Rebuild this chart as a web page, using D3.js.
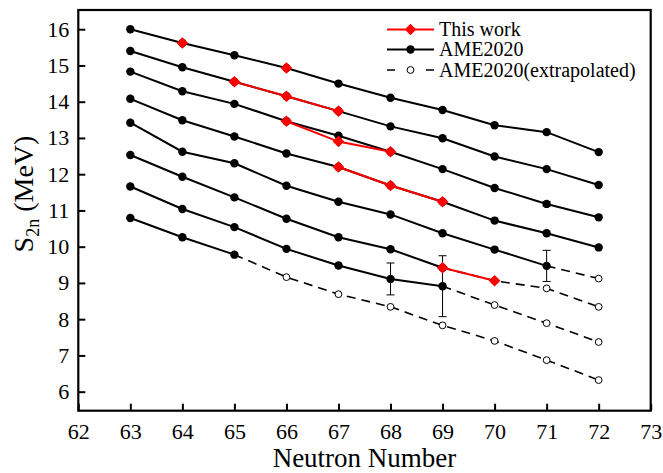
<!DOCTYPE html>
<html>
<head>
<meta charset="utf-8">
<script src="https://cdn.jsdelivr.net/npm/d3@7"></script>
<style>
  body { margin: 0; background: #fff; }
  svg, svg text { font-family: "Liberation Serif", "Times New Roman", serif; }
</style>
</head>
<body>
<div id="chart"></div>
<script>
// neutron numbers shared by every isotope chain
const neutronNumbers = [63, 64, 65, 66, 67, 68, 69, 70, 71, 72];

// AME2020 measured S2n (MeV), one row per isotopic chain, null = not measured
const ameChains = [
  [16.00, 15.62, 15.28, 14.93, 14.50, 14.11, 13.77, 13.35, 13.16, 12.61],
  [15.40, 14.95, 14.55, 14.15, 13.74, 13.32, 12.99, 12.49, 12.14, 11.70],
  [14.83, 14.29, 13.94, 13.46, 13.06, 12.62, 12.14, 11.62, 11.18, 10.81],
  [14.08, 13.49, 13.04, 12.57, 12.20, 11.69, 11.24, 10.72, 10.37, 9.98],
  [13.42, 12.62, 12.30, 11.68, 11.24, 10.89, 10.37, 9.92, 9.47, null],
  [12.53, 11.93, 11.36, 10.77, 10.26, 9.93, 9.42, null, null, null],
  [11.66, 11.04, 10.54, 9.94, 9.48, 9.11, 8.91, null, null, null],
  [10.79, 10.26, 9.78, null, null, null, null, null, null, null]
];

// AME2020 extrapolated values
const extrapChains = [
  [null, null, null, null, null, null, null, null, null, null],
  [null, null, null, null, null, null, null, null, null, null],
  [null, null, null, null, null, null, null, null, null, null],
  [null, null, null, null, null, null, null, null, null, null],
  [null, null, null, null, null, null, null, null, null, 9.12],
  [null, null, null, null, null, null, null, 9.06, 8.85, 8.34],
  [null, null, null, null, null, null, null, 8.39, 7.89, 7.37],
  [null, null, null, 9.16, 8.69, 8.34, 7.83, 7.40, 6.87, 6.32]
];

// this work
const thisWorkChains = [
  [null, 15.62, null, 14.93, null, null, null, null, null, null],
  [null, null, 14.55, 14.15, 13.74, null, null, null, null, null],
  [null, null, null, 13.46, 12.90, 12.62, null, null, null, null],
  [null, null, null, null, 12.20, 11.69, 11.24, null, null, null],
  [null, null, null, null, null, null, null, null, null, null],
  [null, null, null, null, null, null, 9.42, 9.06, null, null],
  [null, null, null, null, null, null, null, null, null, null],
  [null, null, null, null, null, null, null, null, null, null]
];

// AME2020 uncertainties that are drawn
const errChain = [2, 4, 6, 6];
const errN = [71, 71, 68, 69];
const errSize = [0.06, 0.43, 0.44, 0.84];

const xTicks = d3.range(62, 74);
const yTicks = d3.range(6, 17);
const legendLabels = ["This work", "AME2020", "AME2020(extrapolated)"];

const width = 663, height = 473;
const m = {top: 10, right: 12.3, bottom: 62.3, left: 78.3};

const svg = d3.select("#chart").append("svg")
  .attr("width", width)
  .attr("height", height);

const x = d3.scaleLinear().domain([62, 73]).range([m.left, width - m.right]);
const y = d3.scaleLinear().domain([5.475, 16.53]).range([height - m.bottom, m.top]);

// axes, ticks pointing inward
const xAxis = svg.append("g")
  .attr("transform", `translate(0,${height - m.bottom})`)
  .call(d3.axisBottom(x).tickValues(xTicks).tickSize(-7).tickPadding(13).tickFormat(d3.format("d")));
const yAxis = svg.append("g")
  .attr("transform", `translate(${m.left},0)`)
  .call(d3.axisLeft(y).tickValues(yTicks).tickSize(-7).tickPadding(9).tickFormat(d3.format("d")));

[xAxis, yAxis].forEach(g => {
  g.attr("font-family", null).attr("font-size", null);
  g.select(".domain").remove();
  g.selectAll(".tick line").attr("stroke", "#000").attr("stroke-width", 2);
  g.selectAll(".tick text")
    .attr("fill", "#000")
    .style("font-size", "22px");
});

svg.append("rect")
  .attr("x", m.left)
  .attr("y", m.top)
  .attr("width", width - m.left - m.right)
  .attr("height", height - m.top - m.bottom)
  .attr("fill", "none")
  .attr("stroke", "#000")
  .attr("stroke-width", 2.2);

// axis titles
svg.append("text")
  .attr("x", (m.left + width - m.right) / 2)
  .attr("y", 466.5)
  .attr("text-anchor", "middle")
  .style("font-size", "27px")
  .text("Neutron Number");

const yTitle = svg.append("text")
  .attr("transform", "translate(33,194) rotate(-90)")
  .attr("text-anchor", "middle")
  .style("font-size", "28px");
yTitle.append("tspan").text("S");
yTitle.append("tspan").attr("dy", 6).style("font-size", "18px").text("2n");
yTitle.append("tspan").attr("dy", -6).text(" (MeV)");

const toPoints = row => row.map((v, i) => ({n: neutronNumbers[i], v}));

const line = d3.line()
  .defined(d => d.v != null)
  .x(d => x(d.n))
  .y(d => y(d.v));

const plot = svg.append("g");

// measured AME2020 lines
plot.selectAll(".ame-line")
  .data(ameChains)
  .join("path")
    .attr("class", "ame-line")
    .attr("d", row => line(toPoints(row)))
    .attr("fill", "none")
    .attr("stroke", "#000")
    .attr("stroke-width", 2);

// extrapolated lines start from the last measured point
plot.selectAll(".ext-line")
  .data(extrapChains.map((row, c) => {
    const pts = toPoints(row).filter(d => d.v != null);
    if (!pts.length) return [];
    const measured = toPoints(ameChains[c]).filter(d => d.v != null);
    const last = measured[measured.length - 1];
    return last ? [last, ...pts] : pts;
  }))
  .join("path")
    .attr("class", "ext-line")
    .attr("d", pts => pts.length ? line(pts) : null)
    .attr("fill", "none")
    .attr("stroke", "#000")
    .attr("stroke-width", 1.6)
    .attr("stroke-dasharray", "9,6");

// error bars
const errData = errChain.map((c, i) => ({
  n: errN[i],
  v: ameChains[c][neutronNumbers.indexOf(errN[i])],
  e: errSize[i]
}));
const eb = plot.selectAll(".err")
  .data(errData)
  .join("g")
    .attr("class", "err")
    .attr("stroke", "#000")
    .attr("stroke-width", 1);
eb.append("line")
  .attr("x1", d => x(d.n)).attr("x2", d => x(d.n))
  .attr("y1", d => y(d.v - d.e)).attr("y2", d => y(d.v + d.e));
eb.append("line")
  .attr("x1", d => x(d.n) - 4).attr("x2", d => x(d.n) + 4)
  .attr("y1", d => y(d.v + d.e)).attr("y2", d => y(d.v + d.e));
eb.append("line")
  .attr("x1", d => x(d.n) - 4).attr("x2", d => x(d.n) + 4)
  .attr("y1", d => y(d.v - d.e)).attr("y2", d => y(d.v - d.e));

// markers
plot.selectAll(".ame-dot")
  .data(ameChains.flatMap(toPoints).filter(d => d.v != null))
  .join("circle")
    .attr("class", "ame-dot")
    .attr("cx", d => x(d.n))
    .attr("cy", d => y(d.v))
    .attr("r", 4.2)
    .attr("fill", "#000");

plot.selectAll(".ext-dot")
  .data(extrapChains.flatMap(toPoints).filter(d => d.v != null))
  .join("circle")
    .attr("class", "ext-dot")
    .attr("cx", d => x(d.n))
    .attr("cy", d => y(d.v))
    .attr("r", 3.4)
    .attr("fill", "#fff")
    .attr("stroke", "#000")
    .attr("stroke-width", 1);

// this work
plot.selectAll(".tw-line")
  .data(thisWorkChains)
  .join("path")
    .attr("class", "tw-line")
    .attr("d", row => line(toPoints(row)))
    .attr("fill", "none")
    .attr("stroke", "#ff0000")
    .attr("stroke-width", 2);

const diamond = d3.symbol().type(d3.symbolDiamond2).size(85);
plot.selectAll(".tw-dot")
  .data(thisWorkChains.flatMap(toPoints).filter(d => d.v != null))
  .join("path")
    .attr("class", "tw-dot")
    .attr("transform", d => `translate(${x(d.n)},${y(d.v)})`)
    .attr("d", diamond)
    .attr("fill", "#ff0000");

// legend
const lg = svg.append("g").attr("transform", "translate(387,0)");
const rowsY = [29.5, 49.5, 70];
const lx0 = 0, lx1 = 47, lxm = 23.5;

lg.append("line").attr("x1", lx0).attr("x2", lx1).attr("y1", rowsY[0]).attr("y2", rowsY[0])
  .attr("stroke", "#ff0000").attr("stroke-width", 2);
lg.append("path").attr("transform", `translate(${lxm},${rowsY[0]})`).attr("d", diamond).attr("fill", "#ff0000");

lg.append("line").attr("x1", lx0).attr("x2", lx1).attr("y1", rowsY[1]).attr("y2", rowsY[1])
  .attr("stroke", "#000").attr("stroke-width", 2);
lg.append("circle").attr("cx", lxm).attr("cy", rowsY[1]).attr("r", 4.2).attr("fill", "#000");

lg.append("line").attr("x1", lx0).attr("x2", lx1).attr("y1", rowsY[2]).attr("y2", rowsY[2])
  .attr("stroke", "#000").attr("stroke-width", 1.6).attr("stroke-dasharray", "8,31,8");
lg.append("circle").attr("cx", lxm).attr("cy", rowsY[2]).attr("r", 3.4)
  .attr("fill", "#fff").attr("stroke", "#000").attr("stroke-width", 1);

lg.selectAll(".lg-text")
  .data(legendLabels)
  .join("text")
    .attr("class", "lg-text")
    .attr("x", 52)
    .attr("y", (d, i) => rowsY[i] + 6.5)
    .style("font-size", "20px")
    .text(d => d);
</script>
</body>
</html>
